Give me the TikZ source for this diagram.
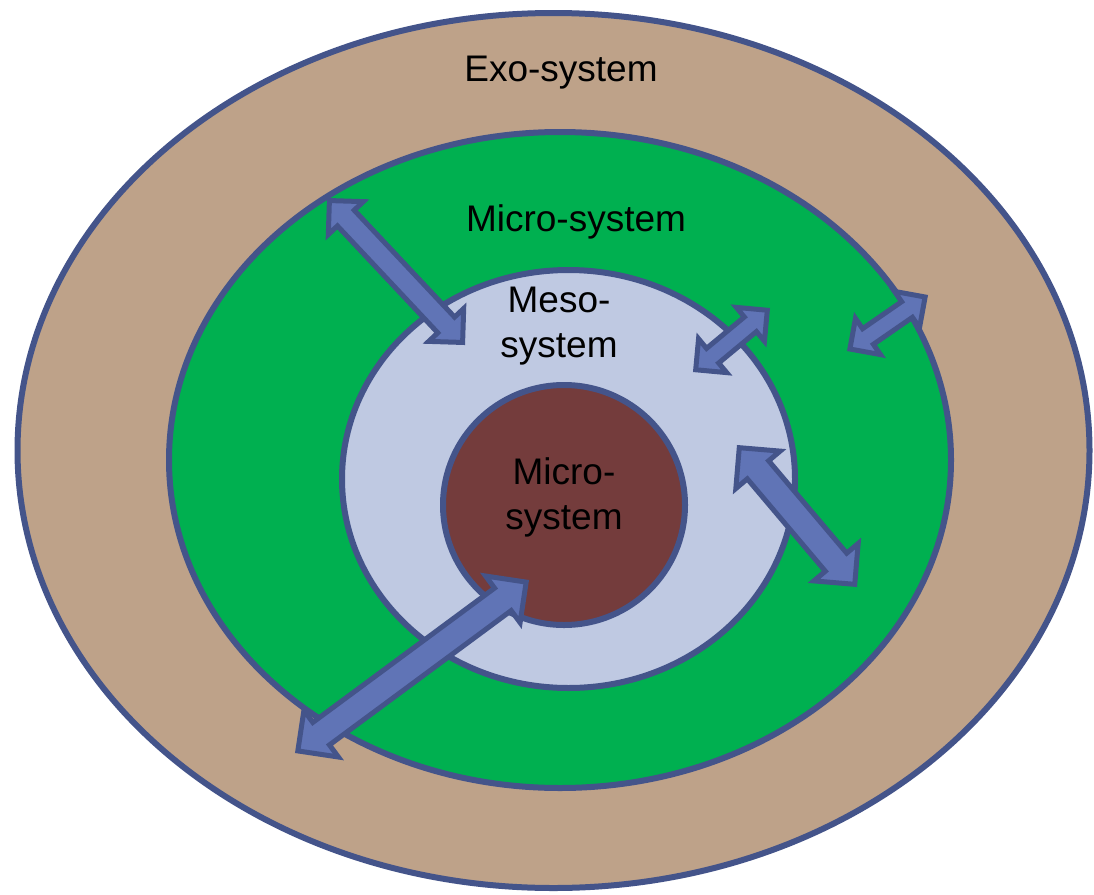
\documentclass[tikz,border=0pt]{standalone}
\usepackage{fontspec}
\setmainfont{Liberation Sans}
\usetikzlibrary{shapes.geometric,shapes.arrows,calc}
\definecolor{rim}{RGB}{68,84,138}
\definecolor{exoc}{RGB}{190,162,137}
\definecolor{microc}{RGB}{0,176,80}
\definecolor{mesoc}{RGB}{191,201,226}
\definecolor{corec}{RGB}{116,60,60}
\definecolor{arrc}{RGB}{96,116,182}
\tikzset{
  ring/.style={ellipse, draw=rim, line width=6pt, inner sep=0pt},
  lbl/.style={font=\fontsize{37}{45}\selectfont, text=black, align=center, inner sep=0pt},
  barrow/.style={double arrow, draw=rim, fill=arrc, line width=5pt, line join=miter,
    double arrow tip angle=90, inner xsep=0pt, minimum width=0pt},
}
\newcommand\blockarrow[5]{%
  \path let \p1=($(#3)-(#2)$), \n1={atan2(\y1,\x1)}, \n2={veclen(\x1,\y1)-7} in
    node[barrow, rotate=\n1, minimum height=\n2, inner ysep=#4, double arrow head extend=#5]
    (#1) at ($(#2)!0.5!(#3)$) {};}
\begin{document}
\begin{tikzpicture}[x=1pt,y=-1pt]
\useasboundingbox (0,0) rectangle (1094,894);
\fill[white] (0,0) rectangle (1094,894);
\node[ring, fill=exoc, minimum width=1072, minimum height=875] (exo) at (553.5,450.5) {};
\node[ring, fill=microc, minimum width=782, minimum height=656] (micro) at (560,460) {};
\node[ring, fill=mesoc, minimum width=453, minimum height=418] (meso) at (568.5,479) {};
\node[ring, fill=corec, minimum width=242, minimum height=240] (core) at (564,505) {};
\node[lbl, anchor=base] (exolbl) at (561,81) {Exo-system};
\node[lbl, anchor=base] (microlbl) at (576,231) {Micro-system};
\node[lbl] (mesolbl) at (559,326) {Meso-\\system};
\node[lbl] (corelbl) at (564,497) {Micro-\\system};
\coordinate (a1s) at (327,198); \coordinate (a1e) at (465,345);
\coordinate (a2s) at (693,372); \coordinate (a2e) at (770,308);
\coordinate (a3s) at (847,351); \coordinate (a3e) at (928,295);
\coordinate (a4s) at (737,445); \coordinate (a4e) at (857,587);
\coordinate (a5s) at (295,753); \coordinate (a5e) at (529,580);
\blockarrow{arr1}{a1s}{a1e}{9pt}{12.5pt}
\blockarrow{arr2}{a2s}{a2e}{7pt}{12.5pt}
\blockarrow{arr3}{a3s}{a3e}{7pt}{12.5pt}
\blockarrow{arr4}{a4s}{a4e}{11.5pt}{15pt}
\blockarrow{arr5}{a5s}{a5e}{11.5pt}{15pt}
\end{tikzpicture}
\end{document}
